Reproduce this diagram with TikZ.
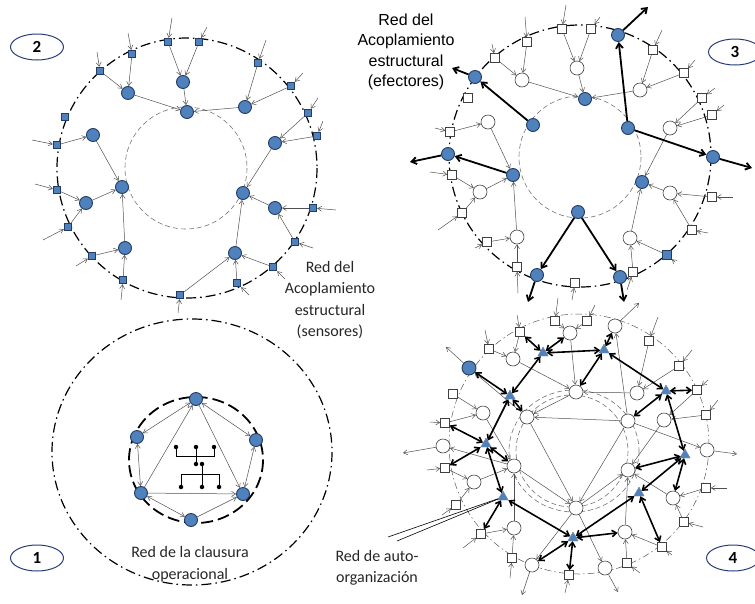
\documentclass[tikz,border=0pt]{standalone}
\usepackage{fontspec}
\setmainfont{Carlito}
\newfontfamily\arialfont{Liberation Sans}
\usetikzlibrary{arrows.meta,shapes.geometric,calc}
\definecolor{nodeblue}{RGB}{79,129,189}
\definecolor{nodeedge}{RGB}{35,60,100}
\definecolor{tagedge}{RGB}{40,60,120}
\definecolor{linegray}{RGB}{80,80,80}

\tikzset{
  bnode/.style={circle, draw=nodeedge, fill=nodeblue, line width=0.9pt, minimum size=13pt, inner sep=0pt},
  wnode/.style={circle, draw=black!75, fill=white, line width=0.6pt, minimum size=14pt, inner sep=0pt},
  bsq/.style={rectangle, draw=nodeedge, fill=nodeblue, line width=0.9pt, minimum size=7.5pt, inner sep=0pt},
  wsq/.style={rectangle, draw=black!75, fill=white, line width=0.6pt, minimum size=9pt, inner sep=0pt},
  tnode/.style={regular polygon, regular polygon sides=3, draw=nodeedge!60, fill=nodeblue, minimum size=12pt, inner sep=0pt},
  treedot/.style={circle, fill=black, minimum size=4.5pt, inner sep=0pt},
  thinarr/.style={-{Straight Barb[length=4pt,width=5pt]}, line width=0.5pt, draw=linegray},
  thinboth/.style={{Straight Barb[length=4pt,width=5pt]}-{Straight Barb[length=4pt,width=5pt]}, line width=0.5pt, draw=linegray},
  thickarr/.style={-{Straight Barb[length=5pt,width=7pt]}, line width=1.8pt},
  bothway/.style={{Straight Barb[length=4.5pt,width=6.5pt]}-{Straight Barb[length=4.5pt,width=6.5pt]}, line width=1.6pt},
  ring/.style={line width=1.2pt, dash pattern=on 10pt off 4pt on 1.5pt off 4pt},
  thinring/.style={line width=0.5pt, draw=black!65, dash pattern=on 7pt off 3pt on 1.5pt off 3pt},
  coreline/.style={line width=0.6pt, draw=black!55, dash pattern=on 5pt off 3pt},
  numtag/.style={ellipse, draw=tagedge, line width=1pt, minimum width=53pt, minimum height=26pt, inner sep=0pt, font=\bfseries\fontsize{17}{17}\selectfont},
  caption/.style={align=center, text=black!85, font=\fontsize{16}{21.5}\selectfont},
}

\begin{document}
\begin{tikzpicture}[x=1pt,y=-1pt]
  \useasboundingbox (0,0) rectangle (755,603);

  % ---------- panel 2: sensores ----------
  \draw[ring] (187,168) circle[radius=130];
  \draw[coreline] (186,168) circle[radius=61];
  \foreach \n/\x/\y in {1/100/71, 2/132/54, 3/168/42, 4/199/42, 5/258/63, 6/291/86, 7/308/113, 8/317/136, 9/65/117, 10/57/145, 11/57/190, 12/68/227, 13/92/256, 14/123/280, 15/180/295, 16/237/283, 17/273/267, 18/295/242, 19/313/208}
    \node[bsq] (n2s\n) at (\x,\y) {};
  \foreach \n/\x/\y in {1/128/93, 2/183/82, 3/187/112, 4/245/107, 5/93/135, 6/275/143, 7/122/187, 8/243/193, 9/86/203, 10/275/208, 11/125/248, 12/235/253}
    \node[bnode] (n2c\n) at (\x,\y) {};
  \foreach \a/\b in {s1/c1, s2/c1, c1/c3, s3/c2, s4/c2, c2/c3, s5/c4, s6/c4, c4/c3, s10/c5, c5/c7, s11/c9, s12/c9, c9/c7, s13/c11, s14/c11, c11/c7, s7/c6, s8/c6, c6/c8, s19/c10, s18/c10, c10/c8, s15/c12, s16/c12, s17/c12, c12/c8}
    \draw[thinarr] (n2\a) -- (n2\b);
  \foreach \n/\dx/\dy in {s1/-3/-19, s2/-4/-21, s3/4/-24, s4/8/-15, s5/8/-23, s6/12/-13, s7/10/-15, s8/6/-15, s10/-25/-5, s11/-22/-6, s12/-25/13, s13/-16/10, s14/-2/20, s15/-2/18, s16/12/12, s17/12/12, s18/18/6, s19/23/2}
    \draw[thinarr] (n2\n) ++(\dx,\dy) coordinate (n2\n-in) -- (n2\n);
  \node[numtag] (tag2) at (37,47) {2};
  \node[caption] (sensores) at (330,300) {Red del\\Acoplamiento\\estructural\\(sensores)};

  % ---------- panel 3: efectores ----------
  \draw[ring] (580,156) circle[radius=131];
  \draw[coreline] (580,157) circle[radius=61];
  \foreach \n/\x/\y in {1/562/29, 2/591/29, 3/527/42, 4/495/58, 5/653/50, 6/684/73, 7/702/98, 8/712/115, 9/468/98, 10/450/132, 11/452/175, 12/462/213, 13/487/242, 14/517/267, 15/575/283, 16/633/272, 18/692/230, 19/712/197}
    \node[wsq] (n3q\n) at (\x,\y) {};
  \node[bsq, minimum size=9pt] (n3q17) at (667,255) {};
  \foreach \n/\x/\y in {1/577/68, 2/522/80, 3/640/90, 4/488/122, 5/670/128, 6/480/192, 7/670/193, 8/517/237, 9/630/238}
    \node[wnode] (n3w\n) at (\x,\y) {};
  \foreach \n/\x/\y in {1/618/35, 2/475/77, 3/585/99, 4/533/125, 5/628/128, 6/448/154, 7/513/175, 8/713/157, 9/642/182, 10/578/212, 11/537/275, 12/620/277}
    \node[bnode] (n3b\n) at (\x,\y) {};
  \foreach \a/\b in {q1/w1, q2/w1, w1/b3, q3/w2, q4/w2, w2/b3, q5/w3, q6/w3, w3/b3, q10/w4, w4/b7, q11/w6, q12/w6, w6/b7, q13/w8, q14/w8, w8/b7, q7/w5, q8/w5, w5/b9, q19/w7, q18/w7, w7/b9, q16/w9, q17/w9, w9/b9}
    \draw[thinarr] (n3\a) -- (n3\b);
  \foreach \n/\dx/\dy in {q1/4/-24, q2/9/-12, q3/-2/-25, q4/-3/-14, q5/9/-20, q6/11/-13, q7/13/-10, q8/12/-10, q10/-15/-4, q11/-22/-3, q12/-24/17, q13/-12/6, q14/1/26, q15/-3/17, q16/-6/18, q17/8/7, q18/16/3, q19/21/0}
    \draw[thinarr] (n3\n) ++(\dx,\dy) coordinate (n3\n-in) -- (n3\n);
  \foreach \a/\b in {b4/b2, b5/b1, b5/b8, b7/b6, b10/b11, b10/b12}
    \draw[thickarr] (n3\a) -- (n3\b);
  \foreach \n/\dx/\dy in {b2/-23/-9, b1/30/-28, b8/39/11, b6/-38/8, b11/-9/27, b12/4/25}
    \draw[thickarr] (n3\n) -- ++(\dx,\dy) coordinate (n3\n-out);
  \node[numtag] (tag3) at (735,52) {3};
  \node[align=center, font=\arialfont\fontsize{16}{20.5}\selectfont] (efectores) at (406,52) {Red del\\Acoplamiento\\estructural\\(efectores)};

  % ---------- panel 1: clausura operacional ----------
  \draw[ring] (192,452) ellipse[x radius=140, y radius=133];
  \draw[line width=1.8pt, dash pattern=on 12pt off 5pt] (196,460) ellipse[x radius=67, y radius=63];
  \foreach \n/\x/\y in {1/196/399, 2/137/437, 3/256/440, 4/141/493, 5/243/494, 6/191/520}
    \node[bnode] (n1p\n) at (\x,\y) {};
  \foreach \a/\b in {p4/p1, p1/p5, p4/p5, p6/p5}
    \draw[thinarr] (n1\a) -- (n1\b);
  \foreach \a/\b in {p1/p2, p1/p3, p2/p4, p3/p5, p4/p6}
    \draw[thinboth] (n1\a) -- (n1\b);
  \node[treedot] (k1) at (176,447) {};
  \node[treedot] (k2) at (196,447) {};
  \node[treedot] (k3) at (214,447) {};
  \node[treedot] (k4) at (196,464) {};
  \node[treedot] (k5) at (202,464) {};
  \node[treedot] (k6) at (181,487) {};
  \node[treedot] (k7) at (202,487) {};
  \node[treedot] (k8) at (219,487) {};
  \draw[line width=0.7pt] (k1) -- ++(0,9) -| (k3);
  \draw[line width=0.7pt] (k2) -- (k4);
  \draw[line width=0.7pt] (k5) -- (k7);
  \draw[line width=0.7pt] (k6) -- ++(0,-13) -| (k8);
  \node[numtag] (tag1) at (37,558) {1};
  \node[caption] (clausura) at (190,564) {Red de la clausura\\operacional};

  % ---------- panel 4: auto-organizacion ----------
  \draw[thinring] (579,444) circle[radius=130];
  \draw[coreline] (572,451) circle[radius=56];
  \draw[coreline] (574,451) ellipse[x radius=65, y radius=61];
  \foreach \n/\x/\y in {1/489/349, 2/520/332, 3/555/321, 4/587/321, 5/649/341, 6/679/366, 7/697/390, 8/706/415, 9/453/394, 10/445/423, 11/445/468, 12/456/505, 13/481/534, 14/512/558, 15/569/575, 16/627/563, 17/662/547, 18/684/522, 19/706/488}
    \node[wsq] (n4a\n) at (\x,\y) {};
  \foreach \n/\x/\y in {1/570/333, 2/615/326, 3/513/359, 4/637/393, 5/483/413, 6/664/420, 7/474/482, 8/673/498, 9/514/528, 10/625/532, 11/532/565, 12/605/568}
    \node[wnode] (n4m\n) at (\x,\y) {};
  \foreach \n/\x/\y in {1/576/392, 2/527/417, 3/628/421, 4/514/466, 5/628/470, 6/576/508}
    \node[wnode] (n4i\n) at (\x,\y) {};
  \node[bnode, minimum size=14pt] (n4o1) at (469,368) {};
  \node[wnode] (n4o2) at (443,446) {};
  \node[wnode] (n4o3) at (707,450) {};
  \foreach \n/\x/\y in {1/543/353, 2/604/350, 3/510/396, 4/666/391, 5/486/444, 6/685/455, 7/503/497, 8/639/493, 9/573/538}
    \node[tnode] (n4t\n) at (\x,\y) {};
  \foreach \a/\b in {a3/m1, a4/m1, m1/i1, a1/m3, a2/m3, m3/i1, a5/m4, a6/m4, m4/i1, a9/m5, a10/m5, m5/i4, a11/m7, a12/m7, m7/i4, a13/m9, a14/m9, m9/i4, a7/m6, a8/m6, m6/i5, a19/m8, a18/m8, m8/i5, a16/m10, a17/m10, m10/i5, i3/i2, i2/i6, i3/i6, i4/i6, i6/i5, i1/i2, i2/o1, i3/m2, i3/o3, i4/o2, i6/m11, i6/m12}
    \draw[thinarr] (n4\a) -- (n4\b);
  \foreach \n/\dx/\dy in {a1/-4/-19, a2/-3/-17, a3/3/-23, a4/8/-16, a5/9/-24, a6/13/-16, a7/11/-10, a8/12/-15, a10/-15/-1, a11/-18/2, a12/-14/10, a13/-18/14, a14/-2/20, a15/-4/18, a16/13/10, a17/10/8, a18/19/5, a19/21/0}
    \draw[thinarr] (n4\n) ++(\dx,\dy) coordinate (n4\n-in) -- (n4\n);
  \foreach \n/\dx/\dy in {o1/-23/-21, m2/24/-23, o2/-40/7, o3/30/4, m11/-10/30, m12/13/24}
    \draw[thinarr] (n4\n) -- ++(\dx,\dy) coordinate (n4\n-out);
  \foreach \a/\b in {t1/a2, t1/m1, t1/t2, t1/t3, t3/o1, t3/i2, t3/t5, t5/a10, t2/m2, t2/i1, t2/t4, t4/a7, t4/i3, t4/t6, t6/i5, t6/t8, t6/m8, t8/a17, t8/t9, t9/m10, t9/t7, t9/a15, t9/m11, t7/a13, t7/t5, t5/i4, t5/a11}
    \draw[bothway] (n4\a) -- (n4\b);
  \node[numtag] (tag4) at (733,558) {4};
  \node[caption] (autolabel) at (377,568) {Red de auto-\\organización};
  \coordinate (ptr1) at (388,537);
  \coordinate (ptr2) at (397,541);
  \draw[line width=0.6pt] (ptr1) -- (n4t7);
  \draw[line width=0.6pt] (ptr2) -- (n4t7);
\end{tikzpicture}
\end{document}
